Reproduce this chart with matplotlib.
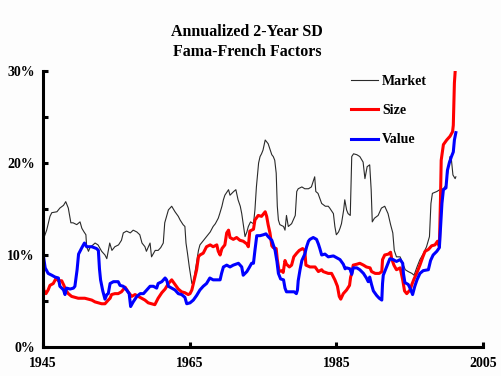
import matplotlib
matplotlib.use("Agg")
import matplotlib.pyplot as plt
from matplotlib.ticker import FixedLocator, FuncFormatter

# ---------------- data (annualized 2-year SD, %) ----------------
market_years = [1945.0, 1945.5, 1945.95, 1946.2, 1946.9, 1947.3, 1947.8, 1948.1, 1948.45, 1948.8,
                1949.1, 1949.6, 1950.05, 1950.3, 1950.6, 1950.85, 1950.95, 1951.2, 1951.4, 1952.1,
                1952.5, 1953.0, 1953.45, 1953.7, 1954.1, 1954.4, 1954.8, 1955.3, 1955.7, 1955.95,
                1956.4, 1956.9, 1957.3, 1957.8, 1958.2, 1958.5, 1958.9, 1959.1, 1959.6, 1959.8,
                1960.3, 1960.7, 1961.05, 1961.4, 1961.6, 1962.1, 1962.55, 1963.0, 1963.45, 1963.7,
                1964.1, 1964.35, 1964.5, 1964.7, 1964.95, 1965.3, 1965.5, 1965.7, 1966.0, 1966.2,
                1966.4, 1966.9, 1967.3, 1967.8, 1968.2, 1968.5, 1968.9, 1969.1, 1969.4, 1969.6,
                1969.8, 1970.3, 1970.5, 1971.0, 1971.3, 1971.6, 1971.9, 1972.1, 1972.3, 1972.55,
                1972.8, 1973.0, 1973.3, 1973.7, 1973.9, 1974.1, 1974.4, 1974.6, 1974.8, 1975.0,
                1975.3, 1975.5, 1975.7, 1976.0, 1976.2, 1976.4, 1976.6, 1976.8, 1976.95, 1977.1,
                1977.3, 1977.8, 1978.0, 1978.2, 1978.45, 1978.9, 1979.4, 1979.6, 1979.8, 1980.3,
                1980.7, 1981.2, 1981.6, 1982.05, 1982.2, 1982.5, 1983.0, 1983.5, 1983.9, 1984.1,
                1984.6, 1984.8, 1985.0, 1985.3, 1985.5, 1985.7, 1986.0, 1986.15, 1986.4, 1986.6,
                1986.9, 1987.0, 1987.1, 1987.35, 1987.8, 1988.2, 1988.65, 1988.9, 1989.2, 1989.55,
                1989.75, 1989.9, 1990.2, 1990.7, 1991.15, 1991.6, 1992.05, 1992.4, 1992.7, 1992.9,
                1993.2, 1993.7, 1994.05, 1994.4, 1994.8, 1995.3, 1995.6, 1996.0, 1996.4, 1996.9,
                1997.3, 1997.7, 1997.9, 1998.1, 1998.7, 1999.1, 1999.6, 1999.95, 2000.3, 2000.5,
                2000.7, 2000.9, 2001.2, 2001.3]
market_sd = [11.6, 12.7, 14.2, 14.6, 14.7, 15.1, 15.4, 15.8, 15.1, 13.5,
             13.5, 13.3, 13.6, 12.9, 12.5, 12.2, 10.9, 10.4, 10.8, 11.3,
             11.1, 10.4, 10.0, 9.6, 11.3, 10.5, 10.9, 11.1, 11.6, 12.4,
             12.6, 12.4, 12.7, 12.5, 12.2, 11.3, 10.9, 10.4, 11.3, 9.8,
             10.5, 10.5, 10.8, 11.3, 13.5, 14.9, 15.3, 14.7, 14.2, 13.8,
             13.3, 13.1, 11.3, 10.2, 8.7, 6.9, 7.1, 8.0, 9.5, 10.5,
             11.1, 11.6, 12.0, 12.5, 13.1, 13.4, 14.0, 14.5, 15.3, 16.0,
             16.5, 17.1, 16.5, 16.9, 17.1, 16.0, 15.3, 14.5, 13.4, 12.0,
             12.5, 13.1, 13.6, 13.4, 14.9, 17.4, 20.0, 20.7, 21.0, 21.4,
             22.5, 22.3, 22.1, 21.4, 20.9, 20.7, 20.3, 18.9, 15.3, 13.8,
             13.3, 13.1, 12.7, 14.3, 13.1, 13.4, 14.3, 16.9, 17.2, 17.4,
             17.2, 17.2, 17.4, 18.5, 16.9, 16.7, 15.6, 15.3, 15.3, 15.1,
             14.5, 13.1, 12.2, 12.5, 12.9, 13.4, 14.9, 16.0, 14.9, 14.5,
             14.3, 17.4, 20.7, 21.0, 20.9, 20.7, 20.1, 18.3, 19.6, 19.8,
             17.1, 13.6, 14.0, 14.3, 15.1, 15.3, 14.5, 13.3, 12.4, 10.5,
             9.8, 9.8, 9.1, 8.4, 8.2, 8.0, 7.8, 8.7, 9.5, 10.2,
             10.9, 12.0, 15.6, 16.7, 16.9, 17.1, 17.2, 17.6, 19.6, 20.7,
             20.3, 18.7, 18.3, 18.5]

size_years = [1945.0, 1945.1, 1945.4, 1945.7, 1945.95, 1946.4, 1946.8, 1947.1, 1947.55, 1947.85,
              1948.1, 1948.45, 1948.9, 1949.35, 1949.8, 1950.3, 1950.7, 1951.2, 1951.65, 1952.1,
              1952.55, 1953.0, 1953.45, 1953.9, 1954.15, 1954.35, 1954.8, 1955.25, 1955.7, 1956.2,
              1956.6, 1957.1, 1957.55, 1958.0, 1958.45, 1958.9, 1959.35, 1959.8, 1960.25, 1960.7,
              1961.2, 1961.65, 1962.1, 1962.55, 1963.0, 1963.45, 1963.9, 1964.35, 1964.8, 1965.05,
              1965.3, 1965.6, 1965.95, 1966.2, 1966.4, 1966.85, 1967.3, 1967.8, 1968.2, 1968.7,
              1968.9, 1969.15, 1969.4, 1969.8, 1970.05, 1970.3, 1970.5, 1970.95, 1971.4, 1971.85,
              1972.3, 1972.8, 1973.0, 1973.2, 1973.7, 1973.9, 1974.35, 1974.8, 1975.3, 1975.5,
              1975.7, 1975.95, 1976.2, 1976.4, 1976.8, 1976.95, 1977.2, 1977.55, 1977.75, 1978.0,
              1978.2, 1978.6, 1978.9, 1979.2, 1979.6, 1979.95, 1980.4, 1980.7, 1980.85, 1981.4,
              1982.1, 1982.55, 1983.0, 1983.2, 1983.9, 1984.35, 1984.8, 1985.15, 1985.4, 1985.6,
              1985.95, 1986.4, 1986.8, 1986.95, 1987.1, 1987.3, 1987.8, 1988.2, 1988.7, 1989.1,
              1989.6, 1989.8, 1990.3, 1990.85, 1991.2, 1991.3, 1991.6, 1992.1, 1992.4, 1992.55,
              1992.85, 1993.2, 1993.7, 1994.05, 1994.3, 1994.6, 1995.05, 1995.3, 1995.6, 1995.95,
              1996.4, 1996.8, 1997.1, 1997.55, 1998.0, 1998.45, 1998.8, 1999.05, 1999.2, 1999.3,
              1999.6, 2000.05, 2000.5, 2000.85, 2000.95, 2001.1, 2001.2]
size_sd = [7.6, 6.2, 5.8, 6.2, 6.7, 6.9, 7.5, 7.2, 7.2, 6.7,
           6.2, 5.8, 5.5, 5.4, 5.3, 5.3, 5.3, 5.2, 5.1, 4.9,
           4.8, 4.7, 4.7, 5.1, 5.3, 5.7, 5.8, 5.8, 6.0, 6.5,
           6.0, 5.5, 5.7, 5.5, 5.3, 5.1, 4.8, 4.7, 4.6, 5.3,
           5.9, 6.3, 6.9, 7.3, 6.8, 6.3, 6.0, 5.9, 5.7, 5.8,
           6.2, 7.2, 8.4, 9.8, 10.0, 10.2, 10.9, 11.1, 10.9, 11.1,
           10.4, 10.0, 10.7, 11.1, 12.4, 12.7, 11.9, 11.7, 11.9, 11.6,
           11.5, 11.2, 10.9, 12.6, 12.8, 13.8, 14.3, 14.2, 14.7, 14.2,
           13.3, 12.4, 11.0, 10.8, 10.7, 9.5, 8.2, 8.3, 8.1, 9.4,
           9.0, 8.7, 8.9, 9.8, 10.2, 10.5, 10.7, 10.5, 8.9, 8.7,
           8.7, 8.2, 8.4, 8.2, 8.0, 8.0, 7.3, 6.6, 5.5, 5.2,
           5.8, 6.2, 6.7, 7.6, 8.0, 8.9, 9.0, 9.1, 8.9, 8.7,
           8.6, 8.2, 8.0, 8.0, 8.2, 9.5, 10.0, 10.1, 10.3, 9.6,
           8.9, 8.4, 8.6, 7.3, 6.1, 5.8, 6.2, 6.8, 7.4, 8.0,
           8.9, 9.8, 10.4, 10.6, 11.0, 11.1, 11.5, 10.9, 16.0, 20.3,
           22.0, 22.5, 22.9, 23.4, 24.1, 28.7, 29.9]

value_years = [1945.0, 1945.3, 1945.7, 1946.2, 1946.65, 1947.1, 1947.3, 1947.8, 1948.0, 1948.2,
               1948.7, 1949.15, 1949.35, 1949.65, 1949.85, 1950.3, 1950.65, 1950.95, 1951.65, 1952.3,
               1952.55, 1952.7, 1952.85, 1953.15, 1953.45, 1953.7, 1953.9, 1954.15, 1954.6, 1955.25,
               1955.5, 1955.95, 1956.4, 1956.75, 1956.95, 1957.3, 1957.8, 1958.25, 1958.7, 1959.15,
               1959.6, 1960.05, 1960.5, 1960.7, 1961.2, 1961.65, 1961.85, 1962.1, 1962.55, 1963.0,
               1963.45, 1963.9, 1964.35, 1964.6, 1965.05, 1965.5, 1965.95, 1966.4, 1966.85, 1967.3,
               1967.75, 1968.2, 1969.15, 1969.35, 1969.6, 1970.05, 1970.5, 1970.95, 1971.65, 1972.1,
               1972.3, 1972.8, 1973.1, 1973.45, 1973.7, 1973.9, 1974.15, 1974.6, 1975.05, 1975.4,
               1975.7, 1976.2, 1976.4, 1976.65, 1976.9, 1977.1, 1977.4, 1977.8, 1978.0, 1978.2,
               1978.7, 1979.25, 1979.55, 1979.7, 1979.8, 1980.05, 1980.3, 1980.7, 1980.95, 1981.2,
               1981.4, 1981.85, 1982.3, 1982.55, 1982.75, 1983.0, 1983.45, 1983.9, 1984.6, 1985.05,
               1985.5, 1985.95, 1986.2, 1986.4, 1986.85, 1987.1, 1987.3, 1987.8, 1988.2, 1988.7,
               1989.1, 1989.35, 1989.55, 1989.8, 1990.05, 1990.5, 1990.85, 1991.2, 1991.3, 1991.4,
               1991.85, 1992.3, 1992.75, 1993.2, 1993.7, 1994.05, 1994.15, 1994.35, 1994.8, 1995.05,
               1995.4, 1995.7, 1996.0, 1996.4, 1996.85, 1997.55, 1997.85, 1998.2, 1998.7, 1999.05,
               1999.25, 1999.4, 1999.6, 1999.95, 2000.15, 2000.4, 2000.7, 2000.95, 2001.1, 2001.3]
value_sd = [10.2, 8.6, 8.0, 7.8, 7.6, 7.5, 6.6, 6.2, 5.7, 6.4,
            6.3, 6.4, 6.6, 8.4, 10.1, 10.8, 11.3, 10.9, 10.9, 10.7,
            10.5, 8.5, 7.3, 6.1, 5.2, 5.7, 5.8, 6.9, 7.1, 7.1,
            6.7, 6.6, 6.2, 5.8, 4.4, 4.9, 5.5, 5.8, 5.8, 6.2,
            6.6, 6.6, 6.4, 6.9, 7.1, 7.5, 7.3, 6.6, 6.4, 6.2,
            5.8, 5.7, 5.4, 4.7, 4.8, 5.1, 5.6, 6.2, 6.6, 6.9,
            7.5, 7.3, 7.3, 8.0, 8.7, 8.9, 8.7, 8.9, 9.1, 8.7,
            7.8, 8.2, 8.6, 9.1, 9.1, 10.5, 12.1, 12.1, 12.2, 12.3,
            12.0, 11.6, 11.1, 10.5, 9.3, 8.0, 7.4, 7.3, 6.4, 6.0,
            6.0, 6.0, 5.8, 6.2, 7.2, 8.4, 9.4, 10.1, 10.9, 11.5,
            11.7, 11.9, 11.7, 11.2, 10.7, 10.0, 10.1, 9.8, 9.9, 9.7,
            9.5, 9.0, 8.5, 8.6, 8.5, 7.9, 8.6, 8.6, 8.4, 8.0,
            7.5, 7.1, 7.6, 6.8, 6.1, 5.6, 5.3, 5.1, 6.9, 7.8,
            8.7, 9.6, 9.5, 9.3, 9.5, 9.1, 8.0, 7.0, 6.8, 6.4,
            5.7, 6.6, 7.3, 8.0, 8.3, 8.4, 9.4, 10.0, 10.4, 10.8,
            13.5, 15.6, 17.1, 17.3, 19.2, 20.0, 20.7, 21.2, 22.5, 23.3]

series_labels = ["Market", "Size", "Value"]
x_ticks = [1945, 1965, 1985, 2005]
y_major = [0, 10, 20, 30]
y_minor = [5, 15, 25]
title_lines = ["Annualized 2-Year SD", "Fama-French Factors"]

# ---------------- figure ----------------
plt.rcParams["font.family"] = ["Liberation Serif", "DejaVu Serif"]
plt.rcParams["font.weight"] = "bold"

fig = plt.figure(figsize=(5.02, 3.76), dpi=100)
fig.patch.set_facecolor("#fdfdfd")
ax = fig.add_axes([43 / 502, 29 / 376, 440 / 502, 276 / 376])
ax.set_facecolor("#fdfdfd")

ax.plot(market_years, market_sd, color="#2a2a2a", lw=0.8, label=series_labels[0])
ax.plot(size_years, size_sd, color="#ff0000", lw=2.2, label=series_labels[1])
ax.plot(value_years, value_sd, color="#0000ff", lw=2.2, label=series_labels[2])

ax.set_xlim(1945, 2005)
ax.set_ylim(0, 30)

for s in ("top", "right"):
    ax.spines[s].set_visible(False)
for s in ("left", "bottom"):
    ax.spines[s].set_linewidth(2.2)
    ax.spines[s].set_color("black")

ax.xaxis.set_major_locator(FixedLocator(x_ticks))
ax.yaxis.set_major_locator(FixedLocator(y_major))
ax.yaxis.set_minor_locator(FixedLocator(y_minor))
ax.yaxis.set_major_formatter(FuncFormatter(lambda v, p: f"{v:.0f}%"))
ax.tick_params(axis="both", which="both", direction="in", length=3.5, width=2.2,
               labelsize=10)
ax.tick_params(axis="y", pad=6)
ax.tick_params(axis="x", pad=7)
for lab in ax.get_xticklabels() + ax.get_yticklabels():
    lab.set_fontweight("bold")

fig.text(247 / 502, 1 - 32 / 376, title_lines[0], ha="center", va="center",
         fontsize=11.5, fontweight="bold")
fig.text(247 / 502, 1 - 52 / 376, title_lines[1], ha="center", va="center",
         fontsize=11.5, fontweight="bold")

leg = ax.legend(loc="upper left", bbox_to_anchor=(0.700, 0.986), frameon=False,
                borderpad=0.0, borderaxespad=0.0,
                handlelength=1.95, handletextpad=0.3, labelspacing=1.17,
                prop={"weight": "bold", "size": 10})

fig.savefig("out.png", dpi=100, facecolor=fig.get_facecolor())
